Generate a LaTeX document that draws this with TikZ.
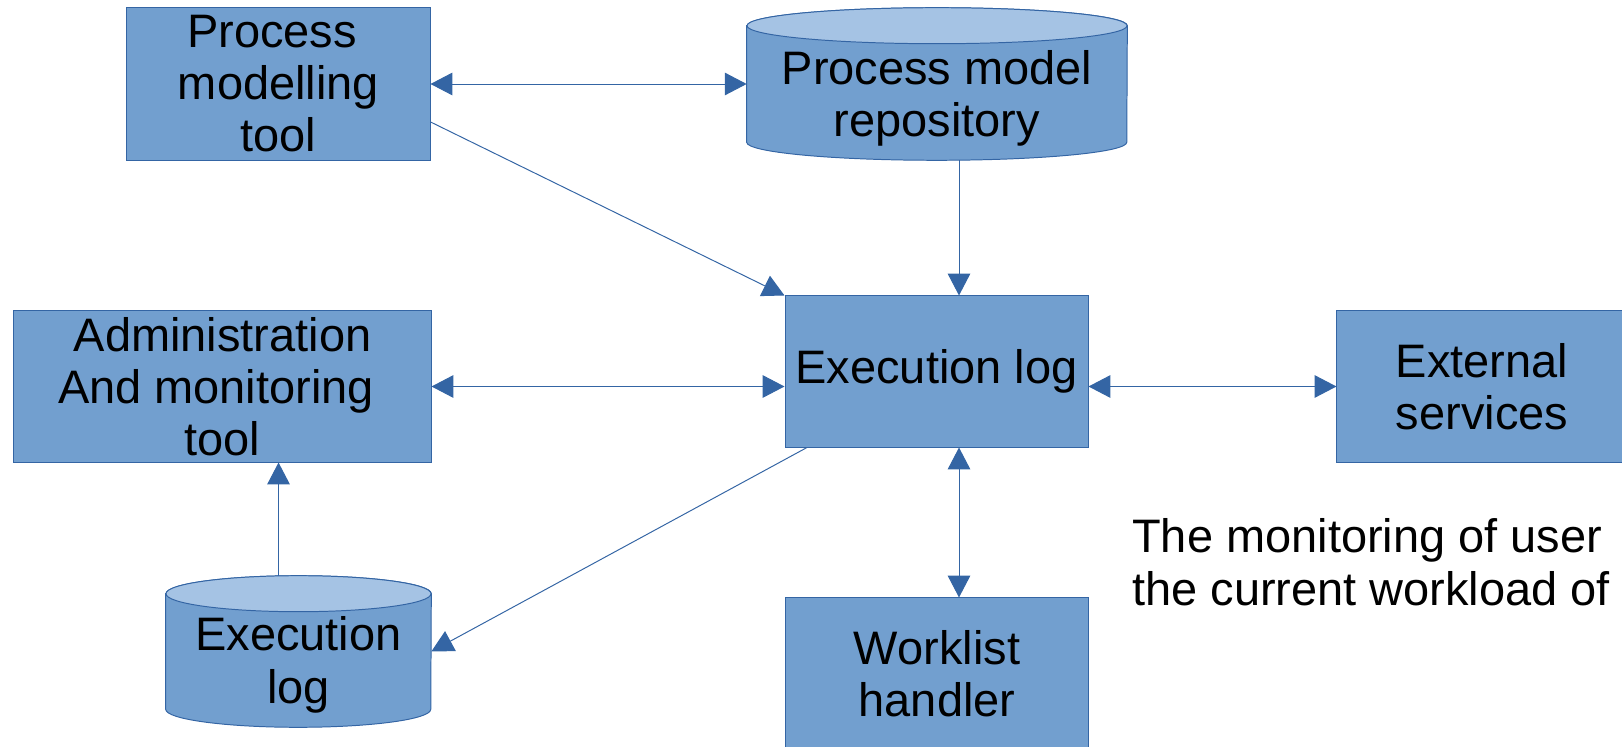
\documentclass[tikz,border=0pt]{standalone}
\usepackage{fontspec}
\setmainfont{Liberation Sans}
\usetikzlibrary{arrows.meta, positioning}
\usepackage{xcolor}
\definecolor{boxfill}{HTML}{729FCF}
\definecolor{boxline}{HTML}{3465A4}
\definecolor{lidfill}{HTML}{A5C3E4}
\tikzset{%
	block/.style={
		rectangle,
		draw=boxline,
		fill=boxfill,
		line width=0.7pt,
		align=center,
		inner sep=0pt
	},
	store/.style={
		rectangle,
		draw=none,
		inner sep=0pt
	},
	drum/.style={
		fill=boxfill,
		draw=boxline,
		line width=0.7pt
	},
	link/.style={
		draw=boxline,
		line width=0.7pt,
		-{Triangle[length=15.5pt, width=16pt]}
	},
	twoway/.style={
		link,
		{Triangle[length=15.5pt, width=16pt]}-{Triangle[length=15.5pt, width=16pt]}
	},
}

\begin{document}
\begin{tikzpicture}[x=0.025cm, y=-0.025cm, font=\fontsize{33.4}{37}\selectfont]
	\useasboundingbox (0,0) rectangle (1622,747);
	% boxes
	\node[block, minimum width=215.5pt, minimum height=108.1pt] (tool) at (278.5,84) {Process\kern0.278em\\modelling\\tool};
	\node[block, minimum width=215.5pt, minimum height=107.4pt] (execbox) at (936.5,371.5) {Execution log};
	\node[block, minimum width=296.6pt, minimum height=107.4pt] (admin) at (222.5,386.5) {Administration\\And monitoring\kern0.278em\\tool};
	\node[block, minimum width=206.3pt, minimum height=107.4pt] (external) at (1482,386.5) {External\\services};
	\node[block, minimum width=214.8pt, minimum height=107.4pt] (worklist) at (937,673.5) {Worklist\\handler};
	% stores
	\node[store, minimum width=270.3pt, minimum height=108.1pt] (repo) at (937,84) {};
	\filldraw[drum] ([yshift=-12.8pt]repo.north west) -- ([yshift=12.8pt]repo.south west)
		arc[start angle=180, end angle=360, x radius=135.15pt, y radius=12.8pt]
		-- ([yshift=-12.8pt]repo.north east)
		arc[start angle=0, end angle=180, x radius=135.15pt, y radius=12.8pt] -- cycle;
	\filldraw[drum, fill=lidfill] ([yshift=-12.8pt]repo.north) ellipse[x radius=135.15pt, y radius=12.8pt];
	\node[align=center, inner sep=0pt] (repotext) at ([yshift=-10.5pt]repo.center) {Process model\\repository};

	\node[store, minimum width=188.5pt, minimum height=107.4pt] (logdb) at (298.5,651.5) {};
	\filldraw[drum] ([yshift=-12.8pt]logdb.north west) -- ([yshift=12.8pt]logdb.south west)
		arc[start angle=180, end angle=360, x radius=94.25pt, y radius=12.8pt]
		-- ([yshift=-12.8pt]logdb.north east)
		arc[start angle=0, end angle=180, x radius=94.25pt, y radius=12.8pt] -- cycle;
	\filldraw[drum, fill=lidfill] ([yshift=-12.8pt]logdb.north) ellipse[x radius=94.25pt, y radius=12.8pt];
	\node[align=center, inner sep=0pt] (logtext) at ([yshift=-9.5pt]logdb.center) {Execution\\log};

	\node[align=left, anchor=base west, inner sep=0pt] (note) at (1132,605) {The monitoring of user\\the current workload of};

	% connectors
	\coordinate (lane) at ([xshift=16pt]execbox.north);
	\coordinate (tap) at ([xshift=-14.2pt]logdb.north);
	\draw[twoway] (tool.east) -- (repo.west);
	\draw[link] ([yshift=-27pt]tool.east) -- (execbox.north west);
	\draw[link] (repo.south -| lane) -- (lane);
	\draw[twoway] (admin.east) -- (admin.east -| execbox.west);
	\draw[twoway] (execbox.east |- external.west) -- (external.west);
	\draw[twoway] (execbox.south -| lane) -- (worklist.north -| lane);
	\draw[link] ([xshift=16pt]execbox.south west) -- (logdb.east);
	\draw[link] (tap) -- (tap |- admin.south);
\end{tikzpicture}
\end{document}
